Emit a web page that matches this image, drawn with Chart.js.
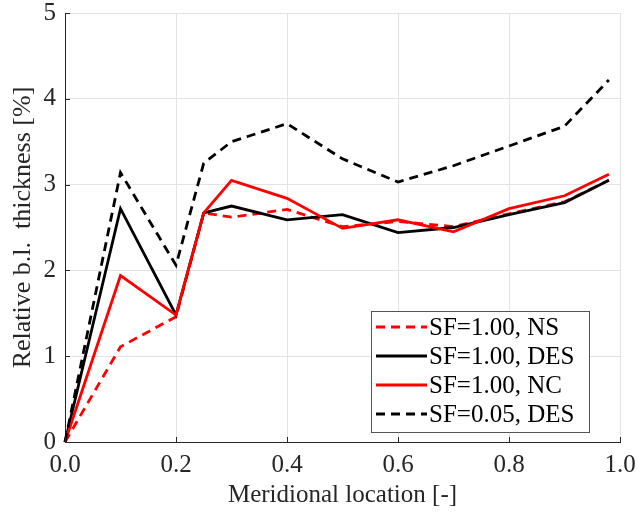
<!DOCTYPE html>
<html>
<head>
<meta charset="utf-8">
<script src="https://cdn.jsdelivr.net/npm/chart.js@4.4.1/dist/chart.umd.min.js"></script>
<style>
  html, body { margin: 0; padding: 0; background: #fff; }
  #wrap { width: 638px; height: 514px; }
</style>
</head>
<body>
<div id="wrap"><canvas id="chart" width="638" height="514"></canvas></div>
<script>
// meridional stations
const location_x = [0, 0.1, 0.2, 0.25, 0.3, 0.4, 0.5, 0.6, 0.7, 0.8, 0.9, 0.98];

// relative boundary layer thickness [%]
const sf100_ns  = [0, 1.11, 1.46, 2.67, 2.62, 2.71, 2.51, 2.57, 2.51, 2.66, 2.80, 3.05];
const sf100_des = [0, 2.72, 1.48, 2.67, 2.75, 2.59, 2.65, 2.44, 2.50, 2.65, 2.79, 3.05];
const sf100_nc  = [0, 1.94, 1.48, 2.67, 3.05, 2.84, 2.49, 2.59, 2.45, 2.72, 2.87, 3.12];
const sf005_des = [0, 3.14, 2.06, 3.25, 3.50, 3.71, 3.30, 3.03, 3.22, 3.45, 3.68, 4.22];

const seriesLabels = ["SF=1.00, NS", "SF=1.00, DES", "SF=1.00, NC", "SF=0.05, DES"];

const FONT = "'Liberation Serif', 'DejaVu Serif', serif";
const INK = "#262626";

function pts(ys) {
  return ys.map((y, i) => ({ x: location_x[i], y: y }));
}

// small tick marks pointing into the axes, like matlab
const innerTicks = {
  id: "innerTicks",
  afterDraw(chart) {
    const { ctx, chartArea, scales } = chart;
    ctx.save();
    ctx.strokeStyle = INK;
    ctx.lineWidth = 1;
    ctx.beginPath();
    scales.x.ticks.forEach((t) => {
      const px = Math.round(scales.x.getPixelForValue(t.value)) + 0.5;
      ctx.moveTo(px, chartArea.bottom);
      ctx.lineTo(px, chartArea.bottom - 5);
    });
    scales.y.ticks.forEach((t) => {
      const py = Math.round(scales.y.getPixelForValue(t.value)) + 0.5;
      ctx.moveTo(chartArea.left, py);
      ctx.lineTo(chartArea.left + 5, py);
    });
    ctx.stroke();
    ctx.restore();
  },
};

// boxed legend in the lower right of the plot
const boxLegend = {
  id: "boxLegend",
  afterDraw(chart) {
    const { ctx } = chart;
    const x0 = 371, y0 = 311, w = 218, h = 121;
    ctx.save();
    ctx.fillStyle = "#fff";
    ctx.fillRect(x0, y0, w, h);
    ctx.strokeStyle = "#555";
    ctx.lineWidth = 1;
    ctx.strokeRect(x0 + 0.5, y0 + 0.5, w, h);
    ctx.font = "25px " + FONT;
    ctx.textBaseline = "middle";
    ctx.fillStyle = "#000";
    chart.data.datasets.forEach((ds, i) => {
      const yy = y0 + 16 + i * 29;
      ctx.strokeStyle = ds.borderColor;
      ctx.lineWidth = ds.borderWidth;
      ctx.setLineDash(ds.borderDash || []);
      ctx.beginPath();
      ctx.moveTo(x0 + 5, yy);
      ctx.lineTo(x0 + 56, yy);
      ctx.stroke();
      ctx.setLineDash([]);
      ctx.fillText(ds.label, x0 + 58, yy + 1);
    });
    ctx.restore();
  },
};

new Chart(document.getElementById("chart"), {
  type: "line",
  data: {
    datasets: [
      {
        label: seriesLabels[0],
        data: pts(sf100_ns),
        borderColor: "#ff0000",
        borderWidth: 2.8,
        borderDash: [9, 6],
        order: 4,
      },
      {
        label: seriesLabels[1],
        data: pts(sf100_des),
        borderColor: "#000000",
        borderWidth: 2.8,
        order: 3,
      },
      {
        label: seriesLabels[2],
        data: pts(sf100_nc),
        borderColor: "#ff0000",
        borderWidth: 2.8,
        order: 2,
      },
      {
        label: seriesLabels[3],
        data: pts(sf005_des),
        borderColor: "#000000",
        borderWidth: 2.8,
        borderDash: [9, 6],
        order: 1,
      },
    ],
  },
  options: {
    responsive: false,
    animation: false,
    clip: false,
    layout: { padding: { top: 13, right: 18, left: 0, bottom: 0 } },
    elements: {
      point: { radius: 0 },
      line: { tension: 0, fill: false },
    },
    scales: {
      x: {
        type: "linear",
        min: 0,
        max: 1,
        border: { color: INK, width: 1 },
        grid: { color: "#e3e3e3", drawTicks: false },
        ticks: {
          stepSize: 0.2,
          padding: 8,
          color: INK,
          font: { family: FONT, size: 25 },
          callback: (v) => v.toFixed(1),
        },
        title: {
          display: true,
          text: "Meridional location [-]",
          color: INK,
          font: { family: FONT, size: 25 },
          padding: { top: 0 },
        },
        afterFit: (scale) => {
          scale.height = 72;
          scale.paddingLeft = 0;
          scale.paddingRight = 0;
        },
      },
      y: {
        type: "linear",
        min: 0,
        max: 5,
        border: { color: INK, width: 1 },
        grid: { color: "#e3e3e3", drawTicks: false },
        ticks: {
          stepSize: 1,
          padding: 9,
          color: INK,
          font: { family: FONT, size: 25 },
        },
        title: {
          display: true,
          text: "Relative b.l.  thickness [%]",
          color: INK,
          font: { family: FONT, size: 26 },
          padding: { top: 8, bottom: 0 },
        },
        afterFit: (scale) => {
          scale.width = 65;
          scale.paddingTop = 0;
          scale.paddingBottom = 0;
        },
      },
    },
    plugins: {
      legend: { display: false },
      tooltip: { enabled: false },
    },
  },
  plugins: [innerTicks, boxLegend],
});
</script>
</body>
</html>
